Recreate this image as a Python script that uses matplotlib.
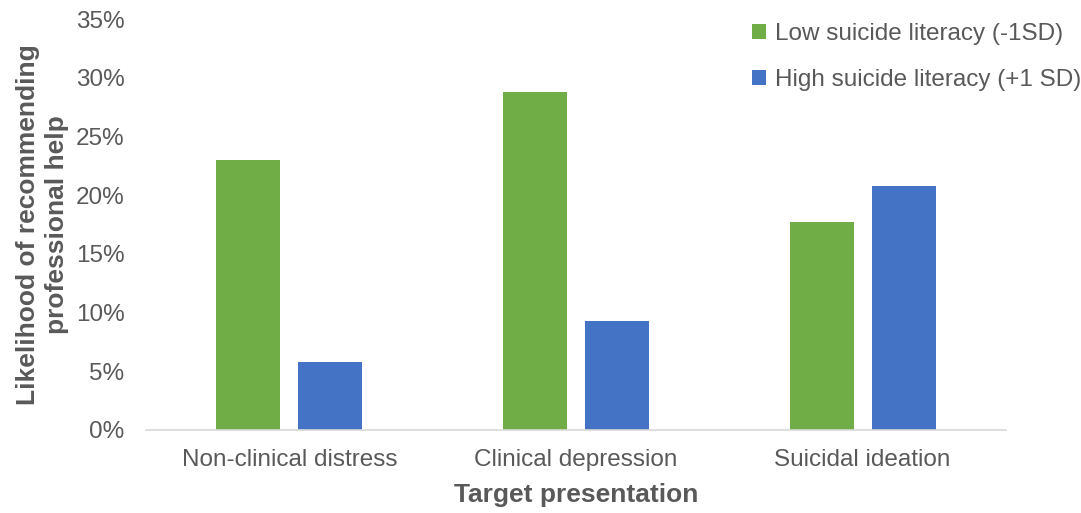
import matplotlib
matplotlib.use('Agg')
import numpy as np
import matplotlib.pyplot as plt
from matplotlib.ticker import PercentFormatter

categories = ['Non-clinical distress', 'Clinical depression', 'Suicidal ideation']
low_literacy = [23.0, 28.8, 17.7]
high_literacy = [5.8, 9.3, 20.8]
series_labels = ['Low suicide literacy (-1SD)', 'High suicide literacy (+1 SD)']

green = '#70ad47'
blue = '#4472c4'
grey = '#595959'

plt.rcParams['font.family'] = ['Liberation Sans', 'DejaVu Sans']

fig = plt.figure(figsize=(10.81, 5.13), dpi=100)
ax = fig.add_axes([146 / 1081, 1 - 430 / 513, (1006 - 146) / 1081, (430 - 19) / 513])

x = np.arange(len(categories))
w = 0.223
off = 0.143
ax.bar(x - off, low_literacy, w, color=green, label=series_labels[0])
ax.bar(x + off, high_literacy, w, color=blue, label=series_labels[1])

ax.set_xlim(-0.5, 2.5)
ax.set_ylim(0, 35)
ax.set_yticks(np.arange(0, 36, 5))
ax.yaxis.set_major_formatter(PercentFormatter(decimals=0))
ax.set_xticks(x)
ax.set_xticklabels(categories)

for s in ['top', 'right', 'left']:
    ax.spines[s].set_visible(False)
ax.spines['bottom'].set_color('#d9d9d9')
ax.spines['bottom'].set_linewidth(1.2)
ax.tick_params(axis='both', length=0, labelsize=17.5, colors=grey)
ax.tick_params(axis='y', pad=15.5)
ax.tick_params(axis='x', pad=14)

ax.set_xlabel('Target presentation', fontsize=19, fontweight='bold', color=grey, labelpad=8)
ax.set_ylabel('Likelihood of recommending\nprofessional help', fontsize=19,
              fontweight='bold', color=grey, labelpad=5, linespacing=1.25)

leg = ax.legend(loc='upper left', bbox_to_anchor=(730 / 1081, 1 - 1 / 513),
                bbox_transform=fig.transFigure, frameon=False, fontsize=17.5,
                handlelength=0.6, handleheight=0.6, handletextpad=0.35,
                labelspacing=1.0)
for t in leg.get_texts():
    t.set_color(grey)

fig.savefig('out.png', dpi=100)
